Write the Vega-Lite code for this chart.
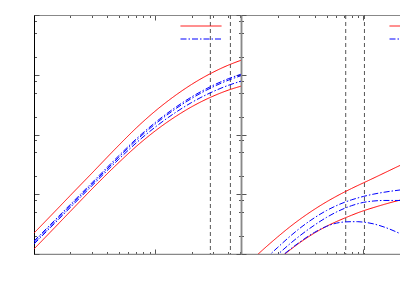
{
  "$schema": "https://vega.github.io/schema/vega-lite/v6.json",
  "background": "white",
  "padding": {"left": 33, "top": 14, "right": 0, "bottom": 0},
  "config": {"view": {"stroke": null}},
  "datasets": {
    "vlines": [
      {"p": "L", "x": 28.5}, {"p": "L", "x": 41.7},
      {"p": "R", "x": 7.17}, {"p": "R", "x": 10.2}
    ],
    "curves": [
      {"p":"L","id":"LU","k":"bound","x":1,"y":2.239},{"p":"L","id":"LU","k":"bound","x":1.5,"y":5.239},{"p":"L","id":"LU","k":"bound","x":2,"y":9.61},{"p":"L","id":"LU","k":"bound","x":3,"y":22.48},{"p":"L","id":"LU","k":"bound","x":5,"y":65.8},{"p":"L","id":"LU","k":"bound","x":7,"y":129.5},{"p":"L","id":"LU","k":"bound","x":10,"y":246.6},{"p":"L","id":"LU","k":"bound","x":15,"y":466},{"p":"L","id":"LU","k":"bound","x":20,"y":690.8},{"p":"L","id":"LU","k":"bound","x":30,"y":1101},{"p":"L","id":"LU","k":"bound","x":40,"y":1445},{"p":"L","id":"LU","k":"bound","x":51,"y":1747},
      {"p":"L","id":"LL","k":"bound","x":1,"y":1.212},{"p":"L","id":"LL","k":"bound","x":1.5,"y":2.835},{"p":"L","id":"LL","k":"bound","x":2,"y":5.2},{"p":"L","id":"LL","k":"bound","x":3,"y":12.17},{"p":"L","id":"LL","k":"bound","x":5,"y":33.83},{"p":"L","id":"LL","k":"bound","x":7,"y":63.46},{"p":"L","id":"LL","k":"bound","x":10,"y":114.9},{"p":"L","id":"LL","k":"bound","x":15,"y":204.8},{"p":"L","id":"LL","k":"bound","x":20,"y":291.3},{"p":"L","id":"LL","k":"bound","x":30,"y":438},{"p":"L","id":"LL","k":"bound","x":40,"y":551.9},{"p":"L","id":"LL","k":"bound","x":51,"y":644.2},
      {"p":"L","id":"LA","k":"model","x":1,"y":1.647},{"p":"L","id":"LA","k":"model","x":1.5,"y":3.763},{"p":"L","id":"LA","k":"model","x":2,"y":6.786},{"p":"L","id":"LA","k":"model","x":3,"y":15.5},{"p":"L","id":"LA","k":"model","x":5,"y":44.04},{"p":"L","id":"LA","k":"model","x":7,"y":84.99},{"p":"L","id":"LA","k":"model","x":10,"y":158.6},{"p":"L","id":"LA","k":"model","x":15,"y":292.6},{"p":"L","id":"LA","k":"model","x":20,"y":426.4},{"p":"L","id":"LA","k":"model","x":30,"y":663.5},{"p":"L","id":"LA","k":"model","x":40,"y":856.6},{"p":"L","id":"LA","k":"model","x":51,"y":1021},
      {"p":"L","id":"LB","k":"model","x":1,"y":1.555},{"p":"L","id":"LB","k":"model","x":1.5,"y":3.553},{"p":"L","id":"LB","k":"model","x":2,"y":6.407},{"p":"L","id":"LB","k":"model","x":3,"y":14.63},{"p":"L","id":"LB","k":"model","x":5,"y":41.58},{"p":"L","id":"LB","k":"model","x":7,"y":80.24},{"p":"L","id":"LB","k":"model","x":10,"y":149.7},{"p":"L","id":"LB","k":"model","x":15,"y":276.2},{"p":"L","id":"LB","k":"model","x":20,"y":402.6},{"p":"L","id":"LB","k":"model","x":30,"y":626.4},{"p":"L","id":"LB","k":"model","x":40,"y":808.7},{"p":"L","id":"LB","k":"model","x":51,"y":963.9},
      {"p":"L","id":"LC","k":"model","x":1,"y":1.468},{"p":"L","id":"LC","k":"model","x":1.5,"y":3.354},{"p":"L","id":"LC","k":"model","x":2,"y":6.049},{"p":"L","id":"LC","k":"model","x":3,"y":13.82},{"p":"L","id":"LC","k":"model","x":5,"y":38.46},{"p":"L","id":"LC","k":"model","x":7,"y":72.81},{"p":"L","id":"LC","k":"model","x":10,"y":133},{"p":"L","id":"LC","k":"model","x":15,"y":239.9},{"p":"L","id":"LC","k":"model","x":20,"y":344},{"p":"L","id":"LC","k":"model","x":30,"y":522.8},{"p":"L","id":"LC","k":"model","x":40,"y":664.1},{"p":"L","id":"LC","k":"model","x":51,"y":780.5},
      {"p":"R","id":"RU","k":"bound","x":1,"y":0.533},{"p":"R","id":"RU","k":"bound","x":1.5,"y":1.164},{"p":"R","id":"RU","k":"bound","x":2,"y":1.945},{"p":"R","id":"RU","k":"bound","x":2.5,"y":2.829},{"p":"R","id":"RU","k":"bound","x":3,"y":3.754},{"p":"R","id":"RU","k":"bound","x":4,"y":5.63},{"p":"R","id":"RU","k":"bound","x":5,"y":7.469},{"p":"R","id":"RU","k":"bound","x":6,"y":9.215},{"p":"R","id":"RU","k":"bound","x":7,"y":10.89},{"p":"R","id":"RU","k":"bound","x":8,"y":12.48},{"p":"R","id":"RU","k":"bound","x":9,"y":14.01},{"p":"R","id":"RU","k":"bound","x":10,"y":15.5},{"p":"R","id":"RU","k":"bound","x":12,"y":18.47},{"p":"R","id":"RU","k":"bound","x":15,"y":22.99},{"p":"R","id":"RU","k":"bound","x":20,"y":30.47},{"p":"R","id":"RU","k":"bound","x":30,"y":44.54},
      {"p":"R","id":"RL","k":"bound","x":1,"y":0.2334},{"p":"R","id":"RL","k":"bound","x":1.5,"y":0.4842},{"p":"R","id":"RL","k":"bound","x":2,"y":0.7996},{"p":"R","id":"RL","k":"bound","x":2.5,"y":1.157},{"p":"R","id":"RL","k":"bound","x":3,"y":1.53},{"p":"R","id":"RL","k":"bound","x":4,"y":2.254},{"p":"R","id":"RL","k":"bound","x":5,"y":2.911},{"p":"R","id":"RL","k":"bound","x":6,"y":3.474},{"p":"R","id":"RL","k":"bound","x":7,"y":3.978},{"p":"R","id":"RL","k":"bound","x":8,"y":4.448},{"p":"R","id":"RL","k":"bound","x":9,"y":4.89},{"p":"R","id":"RL","k":"bound","x":10,"y":5.283},{"p":"R","id":"RL","k":"bound","x":12,"y":5.951},{"p":"R","id":"RL","k":"bound","x":15,"y":6.823},{"p":"R","id":"RL","k":"bound","x":20,"y":7.996},{"p":"R","id":"RL","k":"bound","x":30,"y":9.665},
      {"p":"R","id":"RA","k":"model","x":1,"y":0.3303},{"p":"R","id":"RA","k":"model","x":1.5,"y":0.7444},{"p":"R","id":"RA","k":"model","x":2,"y":1.295},{"p":"R","id":"RA","k":"model","x":2.5,"y":1.954},{"p":"R","id":"RA","k":"model","x":3,"y":2.661},{"p":"R","id":"RA","k":"model","x":4,"y":4.061},{"p":"R","id":"RA","k":"model","x":5,"y":5.342},{"p":"R","id":"RA","k":"model","x":6,"y":6.422},{"p":"R","id":"RA","k":"model","x":7,"y":7.328},{"p":"R","id":"RA","k":"model","x":8,"y":8.064},{"p":"R","id":"RA","k":"model","x":9,"y":8.67},{"p":"R","id":"RA","k":"model","x":10,"y":9.188},{"p":"R","id":"RA","k":"model","x":12,"y":10.01},{"p":"R","id":"RA","k":"model","x":15,"y":10.86},{"p":"R","id":"RA","k":"model","x":20,"y":11.8},{"p":"R","id":"RA","k":"model","x":30,"y":13.02},
      {"p":"R","id":"RB","k":"model","x":1,"y":0.2508},{"p":"R","id":"RB","k":"model","x":1.5,"y":0.5649},{"p":"R","id":"RB","k":"model","x":2,"y":0.9832},{"p":"R","id":"RB","k":"model","x":2.5,"y":1.47},{"p":"R","id":"RB","k":"model","x":3,"y":1.994},{"p":"R","id":"RB","k":"model","x":4,"y":3.061},{"p":"R","id":"RB","k":"model","x":5,"y":4.101},{"p":"R","id":"RB","k":"model","x":6,"y":5.022},{"p":"R","id":"RB","k":"model","x":7,"y":5.801},{"p":"R","id":"RB","k":"model","x":8,"y":6.437},{"p":"R","id":"RB","k":"model","x":9,"y":6.937},{"p":"R","id":"RB","k":"model","x":10,"y":7.303},{"p":"R","id":"RB","k":"model","x":12,"y":7.693},{"p":"R","id":"RB","k":"model","x":15,"y":7.872},{"p":"R","id":"RB","k":"model","x":20,"y":7.872},{"p":"R","id":"RB","k":"model","x":30,"y":7.555},
      {"p":"R","id":"RC","k":"model","x":1,"y":0.2416},{"p":"R","id":"RC","k":"model","x":1.5,"y":0.4971},{"p":"R","id":"RC","k":"model","x":2,"y":0.8163},{"p":"R","id":"RC","k":"model","x":2.5,"y":1.182},{"p":"R","id":"RC","k":"model","x":3,"y":1.568},{"p":"R","id":"RC","k":"model","x":4,"y":2.31},{"p":"R","id":"RC","k":"model","x":5,"y":2.903},{"p":"R","id":"RC","k":"model","x":6,"y":3.28},{"p":"R","id":"RC","k":"model","x":7,"y":3.438},{"p":"R","id":"RC","k":"model","x":8,"y":3.474},{"p":"R","id":"RC","k":"model","x":9,"y":3.474},{"p":"R","id":"RC","k":"model","x":10,"y":3.415},{"p":"R","id":"RC","k":"model","x":12,"y":3.206},{"p":"R","id":"RC","k":"model","x":15,"y":2.795},{"p":"R","id":"RC","k":"model","x":20,"y":2.184},{"p":"R","id":"RC","k":"model","x":30,"y":1.388}
    ]
  },
  "hconcat": [
    {
      "width": 207,
      "height": 239,
      "layer": [
        {
          "data": {"name": "vlines"},
          "transform": [{"filter": "datum.p == 'L'"}],
          "mark": {"type": "rule", "color": "#555", "strokeWidth": 1, "strokeDash": [4, 3]},
          "encoding": {"x": {"field": "x", "type": "quantitative", "scale": {"type": "log", "domain": [1, 51]}, "axis": null}}
        },
        {
          "data": {"name": "curves"},
          "transform": [{"filter": "datum.p == 'L' && datum.k == 'bound'"}],
          "mark": {"type": "line", "clip": true, "strokeWidth": 1, "interpolate": "monotone"},
          "encoding": {
            "x": {"field": "x", "type": "quantitative", "scale": {"type": "log", "domain": [1, 51]},
              "axis": {"orient": "bottom", "labels": false, "title": null, "grid": false, "values": [1,2,3,4,5,6,7,8,9,10,20,30,40,50], "tickColor": "#555", "domainColor": "#888", "domainWidth": 1.5, "tickSize": {"condition": {"test": "datum.value == 1 || datum.value == 10", "value": -5}, "value": -2.5}}},
            "y": {"field": "y", "type": "quantitative", "scale": {"type": "log", "domain": [1, 10000]},
              "axis": {"orient": "left", "labels": false, "title": null, "grid": false, "values": [1,2,5,8,10,20,50,80,100,200,500,800,1000,2000,5000,8000,10000], "tickColor": "#555", "domainColor": "#000", "domainWidth": 1, "tickSize": {"condition": {"test": "datum.value == 1 || datum.value == 10 || datum.value == 100 || datum.value == 1000 || datum.value == 10000", "value": -5}, "value": -2.5}}},
            "detail": {"field": "id"},
            "color": {"field": "k", "type": "nominal", "scale": {"domain": ["bound", "model"], "range": ["#ff0000", "#0000ff"]},
              "legend": {"orient": "none", "legendX": 161.5, "legendY": 5.5, "title": null, "labelExpr": "''", "labelFontSize": 8, "symbolType": "M-4.1,0H4.1", "symbolSize": 100, "symbolStrokeWidth": 1, "rowPadding": 3, "padding": 0}},
            "strokeDash": {"field": "k", "type": "nominal", "scale": {"domain": ["bound", "model"], "range": [[1, 0], [6, 2, 1.5, 2]]},
              "legend": {"orient": "none", "legendX": 161.5, "legendY": 5.5, "title": null, "labelExpr": "''", "labelFontSize": 8, "symbolType": "M-4.1,0H4.1", "symbolSize": 100, "symbolStrokeWidth": 1, "rowPadding": 3, "padding": 0}}
          }
        },
        {
          "data": {"name": "curves"},
          "transform": [{"filter": "datum.p == 'L' && datum.k == 'model'"}],
          "mark": {"type": "line", "clip": true, "strokeWidth": 1, "interpolate": "monotone"},
          "encoding": {
            "x": {"field": "x", "type": "quantitative", "scale": {"type": "log", "domain": [1, 51]},
              "axis": {"orient": "top", "labels": false, "title": null, "grid": false, "values": [1,2,3,4,5,6,7,8,9,10,20,30,40,50], "tickColor": "#555", "domainColor": "#888", "domainWidth": 1, "tickSize": {"condition": {"test": "datum.value == 1 || datum.value == 10", "value": -5}, "value": -2.5}}},
            "y": {"field": "y", "type": "quantitative", "scale": {"type": "log", "domain": [1, 10000]},
              "axis": {"orient": "right", "labels": false, "title": null, "grid": false, "values": [1,2,5,8,10,20,50,80,100,200,500,800,1000,2000,5000,8000,10000], "tickColor": "#555", "domainColor": "#888", "domainWidth": 1.5, "tickSize": {"condition": {"test": "datum.value == 1 || datum.value == 10 || datum.value == 100 || datum.value == 1000 || datum.value == 10000", "value": -5}, "value": -2.5}}},
            "detail": {"field": "id"},
            "color": {"field": "k", "type": "nominal", "scale": {"domain": ["bound", "model"], "range": ["#ff0000", "#0000ff"]},
              "legend": {"orient": "none", "legendX": 161.5, "legendY": 5.5, "title": null, "labelExpr": "''", "labelFontSize": 8, "symbolType": "M-4.1,0H4.1", "symbolSize": 100, "symbolStrokeWidth": 1, "rowPadding": 3, "padding": 0}},
            "strokeDash": {"field": "k", "type": "nominal", "scale": {"domain": ["bound", "model"], "range": [[1, 0], [6, 2, 1.5, 2]]},
              "legend": {"orient": "none", "legendX": 161.5, "legendY": 5.5, "title": null, "labelExpr": "''", "labelFontSize": 8, "symbolType": "M-4.1,0H4.1", "symbolSize": 100, "symbolStrokeWidth": 1, "rowPadding": 3, "padding": 0}}
          }
        }
      ],
      "resolve": {"axis": {"x": "independent", "y": "independent"}}
    },
    {
      "width": 209,
      "height": 239,
      "layer": [
        {
          "data": {"name": "vlines"},
          "transform": [{"filter": "datum.p == 'R'"}],
          "mark": {"type": "rule", "color": "#555", "strokeWidth": 1, "strokeDash": [4, 3]},
          "encoding": {"x": {"field": "x", "type": "quantitative", "scale": {"type": "log", "domain": [1, 51]}, "axis": null}}
        },
        {
          "data": {"name": "curves"},
          "transform": [{"filter": "datum.p == 'R' && datum.k == 'bound'"}],
          "mark": {"type": "line", "clip": true, "strokeWidth": 1, "interpolate": "monotone"},
          "encoding": {
            "x": {"field": "x", "type": "quantitative", "scale": {"type": "log", "domain": [1, 51]},
              "axis": {"orient": "bottom", "labels": false, "title": null, "grid": false, "values": [1,2,3,4,5,6,7,8,9,10,20,30,40,50], "tickColor": "#555", "domainColor": "#888", "domainWidth": 1.5, "tickSize": {"condition": {"test": "datum.value == 1 || datum.value == 10", "value": -5}, "value": -2.5}}},
            "y": {"field": "y", "type": "quantitative", "scale": {"type": "log", "domain": [1, 10000]},
              "axis": {"orient": "left", "labels": false, "title": null, "grid": false, "values": [1,2,5,8,10,20,50,80,100,200,500,800,1000,2000,5000,8000,10000], "tickColor": "#555", "domainColor": "#888", "domainWidth": 1.5, "tickSize": {"condition": {"test": "datum.value == 1 || datum.value == 10 || datum.value == 100 || datum.value == 1000 || datum.value == 10000", "value": -5}, "value": -2.5}}},
            "detail": {"field": "id"},
            "color": {"field": "k", "type": "nominal", "scale": {"domain": ["bound", "model"], "range": ["#ff0000", "#0000ff"]},
              "legend": {"orient": "none", "legendX": 163.5, "legendY": 5.5, "title": null, "labelExpr": "''", "labelFontSize": 8, "symbolType": "M-4.1,0H4.1", "symbolSize": 100, "symbolStrokeWidth": 1, "rowPadding": 3, "padding": 0}},
            "strokeDash": {"field": "k", "type": "nominal", "scale": {"domain": ["bound", "model"], "range": [[1, 0], [6, 2, 1.5, 2]]},
              "legend": {"orient": "none", "legendX": 163.5, "legendY": 5.5, "title": null, "labelExpr": "''", "labelFontSize": 8, "symbolType": "M-4.1,0H4.1", "symbolSize": 100, "symbolStrokeWidth": 1, "rowPadding": 3, "padding": 0}}
          }
        },
        {
          "data": {"name": "curves"},
          "transform": [{"filter": "datum.p == 'R' && datum.k == 'model'"}],
          "mark": {"type": "line", "clip": true, "strokeWidth": 1, "interpolate": "monotone"},
          "encoding": {
            "x": {"field": "x", "type": "quantitative", "scale": {"type": "log", "domain": [1, 51]},
              "axis": {"orient": "top", "labels": false, "title": null, "grid": false, "values": [1,2,3,4,5,6,7,8,9,10,20,30,40,50], "tickColor": "#555", "domainColor": "#888", "domainWidth": 1, "tickSize": {"condition": {"test": "datum.value == 1 || datum.value == 10", "value": -5}, "value": -2.5}}},
            "y": {"field": "y", "type": "quantitative", "scale": {"type": "log", "domain": [1, 10000]},
              "axis": {"orient": "right", "labels": false, "title": null, "grid": false, "values": [1,2,5,8,10,20,50,80,100,200,500,800,1000,2000,5000,8000,10000], "tickColor": "#555", "domainColor": "#888", "domainWidth": 1.5, "tickSize": {"condition": {"test": "datum.value == 1 || datum.value == 10 || datum.value == 100 || datum.value == 1000 || datum.value == 10000", "value": -5}, "value": -2.5}}},
            "detail": {"field": "id"},
            "color": {"field": "k", "type": "nominal", "scale": {"domain": ["bound", "model"], "range": ["#ff0000", "#0000ff"]},
              "legend": {"orient": "none", "legendX": 163.5, "legendY": 5.5, "title": null, "labelExpr": "''", "labelFontSize": 8, "symbolType": "M-4.1,0H4.1", "symbolSize": 100, "symbolStrokeWidth": 1, "rowPadding": 3, "padding": 0}},
            "strokeDash": {"field": "k", "type": "nominal", "scale": {"domain": ["bound", "model"], "range": [[1, 0], [6, 2, 1.5, 2]]},
              "legend": {"orient": "none", "legendX": 163.5, "legendY": 5.5, "title": null, "labelExpr": "''", "labelFontSize": 8, "symbolType": "M-4.1,0H4.1", "symbolSize": 100, "symbolStrokeWidth": 1, "rowPadding": 3, "padding": 0}}
          }
        }
      ],
      "resolve": {"axis": {"x": "independent", "y": "independent"}}
    }
  ],
  "spacing": 0,
  "bounds": "flush",
  "resolve": {"legend": {"color": "independent", "strokeDash": "independent"}}
}
